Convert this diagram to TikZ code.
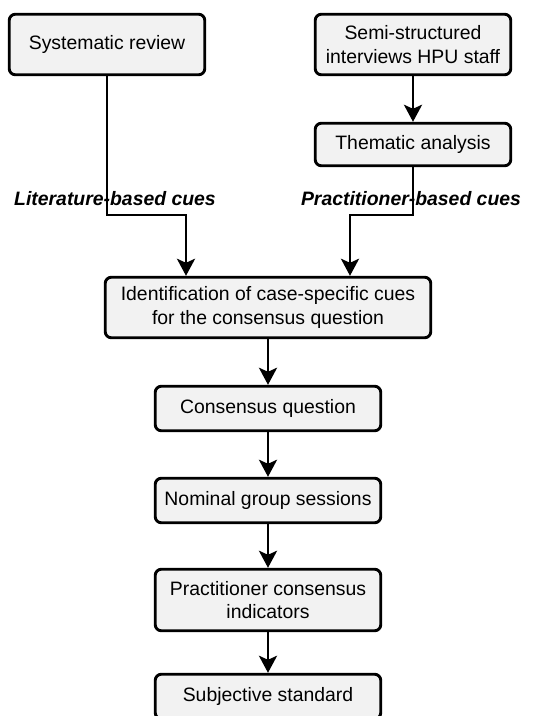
\documentclass[tikz,border=0pt]{standalone}
\usepackage{fontspec}
\setmainfont{Liberation Sans}
\usetikzlibrary{arrows.meta}

\definecolor{boxfill}{RGB}{242,242,242}

\tikzset{
  stepbox/.style={draw=black, fill=boxfill, line width=2.9pt, rounded corners=6pt,
    align=center, inner sep=2pt,
    font=\fontsize{19.4}{23.5}\selectfont},
  cue/.style={inner sep=0pt, font=\fontsize{19.4}{23}\selectfont\bfseries\itshape},
  flow/.style={line width=2.9pt, -{Stealth[length=17pt, width=18pt, inset=4pt]}},
}

\begin{document}
\begin{tikzpicture}[x=1pt, y=-1pt]
  % page frame
  \clip (0,0) rectangle (534,716);
  \fill[white] (0,0) rectangle (534,716);

  % boxes
  \node[stepbox, minimum width=195.5pt, minimum height=60.5pt] (sys) at (107,44.5) {Systematic review};
  \node[stepbox, minimum width=195.5pt, minimum height=60.5pt] (semi) at (413,44.5) {Semi-structured\\interviews HPU staff};
  \node[stepbox, minimum width=195.5pt, minimum height=42.5pt] (them) at (413,144.5) {Thematic analysis};
  \node[stepbox, minimum width=325.5pt, minimum height=60.5pt] (ident) at (268,307.5) {Identification of case-specific cues\\for the consensus question};
  \node[stepbox, minimum width=225.5pt, minimum height=44.5pt] (cons) at (268,408.5) {Consensus question};
  \node[stepbox, minimum width=225.5pt, minimum height=44.5pt] (nom) at (268,500.5) {Nominal group sessions};
  \node[stepbox, minimum width=225.5pt, minimum height=61.5pt] (prac) at (268,600) {Practitioner consensus\\indicators};
  \node[stepbox, minimum width=225.5pt, minimum height=44.5pt] (subj) at (268,696.5) {Subjective standard};

  % bend points of the two merging branches
  \coordinate (lbend) at (186,215);
  \coordinate (rbend) at (350,215);

  % connectors
  \draw[flow] (semi) -- (them);
  \draw[flow] (sys.south) |- (lbend) -- (lbend |- ident.north);
  \draw[flow] (them.south) |- (rbend) -- (rbend |- ident.north);
  \draw[flow] (ident) -- (cons);
  \draw[flow] (cons) -- (nom);
  \draw[flow] (nom) -- (prac);
  \draw[flow] (prac) -- (subj);

  % branch labels
  \node[cue] (litlab) at (115,199) {Literature-based cues};
  \node[cue] (praclab) at (411,199) {Practitioner-based cues};
\end{tikzpicture}
\end{document}
